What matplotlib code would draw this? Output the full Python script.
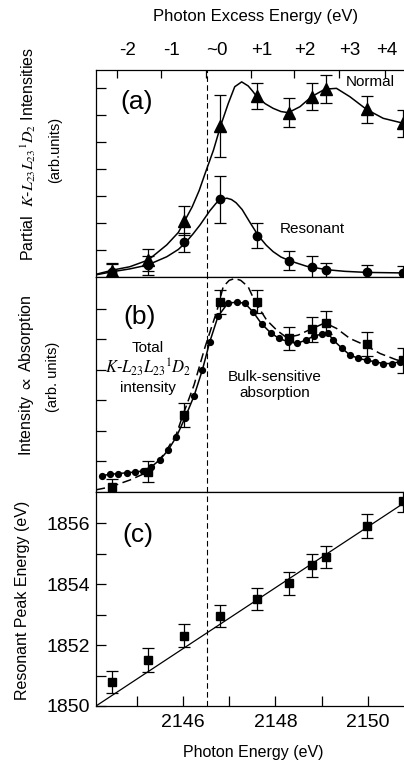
import matplotlib
matplotlib.use('Agg')
import matplotlib.pyplot as plt
import matplotlib.transforms as mtransforms

plt.rcParams['font.family'] = ['Liberation Sans', 'DejaVu Sans']
plt.rcParams['mathtext.fontset'] = 'stix'

# photon energies of the measured points (eV), shared by all panels
photon_e = [2144.47, 2145.25, 2146.03, 2146.80, 2147.60, 2148.30, 2148.80, 2149.10, 2149.98, 2150.76]
edge_e = 2146.52

# (a) partial K-LL 1D2 intensities
normal_y = [0.22, 0.63, 2.09, 5.59, 6.70, 6.09, 6.68, 6.96, 6.21, 5.69]
normal_err = [0.30, 0.39, 0.54, 1.15, 0.49, 0.54, 0.51, 0.51, 0.49, 0.50]
reson_y = [0.20, 0.44, 1.28, 2.88, 1.53, 0.60, 0.36, 0.26, 0.17, 0.16]
reson_err = [0.30, 0.35, 0.35, 0.88, 0.46, 0.35, 0.40, 0.27, 0.29, 0.25]

normal_fit_x = [2144.12, 2144.49, 2144.85, 2145.25, 2145.65, 2145.90, 2146.04, 2146.20, 2146.35,
                2146.48, 2146.66, 2146.82, 2146.98, 2147.12, 2147.27, 2147.41, 2147.50, 2147.59,
                2147.78, 2147.95, 2148.12, 2148.28, 2148.53, 2148.78, 2149.07, 2149.32, 2149.61,
                2149.97, 2150.33, 2150.78]
normal_fit_y = [0.10, 0.26, 0.38, 0.63, 1.19, 1.65, 2.09, 2.60, 3.20,
                3.84, 4.70, 5.63, 6.43, 7.05, 7.23, 7.08, 6.90, 6.70,
                6.42, 6.25, 6.13, 6.09, 6.31, 6.68, 6.96, 6.99, 6.68,
                6.21, 5.88, 5.69]

reson_fit_x = [2144.12, 2144.49, 2144.85, 2145.23, 2145.65, 2145.90, 2146.06, 2146.22, 2146.37,
               2146.58, 2146.72, 2146.84, 2146.95, 2147.05, 2147.15, 2147.28, 2147.45, 2147.63,
               2147.80, 2147.95, 2148.12, 2148.31, 2148.67, 2149.11, 2149.50, 2149.97, 2150.78]
reson_fit_y = [0.08, 0.20, 0.30, 0.44, 0.75, 1.02, 1.28, 1.60, 1.93,
               2.45, 2.74, 2.88, 2.92, 2.87, 2.75, 2.50, 2.02, 1.53,
               1.18, 0.94, 0.74, 0.60, 0.40, 0.27, 0.21, 0.17, 0.15]

# (b) total intensity (squares, dashed) and bulk-sensitive absorption (dots, solid)
total_y = [0.17, 0.66, 2.52, 6.22, 6.22, 5.02, 5.32, 5.53, 4.84, 4.30]
total_err = [0.27, 0.34, 0.39, 0.40, 0.38, 0.39, 0.40, 0.38, 0.38, 0.40]

total_fit_x = [2144.12, 2144.44, 2144.85, 2145.25, 2145.60, 2145.86, 2146.00, 2146.24, 2146.48,
               2146.74, 2146.87, 2147.00, 2147.12, 2147.25, 2147.41, 2147.56, 2147.81, 2148.03,
               2148.24, 2148.49, 2148.76, 2149.07, 2149.32, 2149.61, 2149.94, 2150.26, 2150.62,
               2150.78]
total_fit_y = [0.07, 0.17, 0.39, 0.66, 1.25, 1.90, 2.52, 3.50, 4.75,
               5.95, 6.71, 6.92, 6.98, 6.92, 6.71, 6.22, 5.62, 5.29,
               5.05, 5.13, 5.32, 5.53, 5.35, 5.02, 4.80, 4.53, 4.32,
               4.28]

abs_x = [2144.24, 2144.42, 2144.60, 2144.78, 2144.96, 2145.14, 2145.32, 2145.50, 2145.68,
         2145.86, 2146.04, 2146.24, 2146.42, 2146.58, 2146.76, 2146.97, 2147.16, 2147.34,
         2147.52, 2147.70, 2147.90, 2148.08, 2148.28, 2148.47, 2148.66, 2148.83, 2149.00,
         2149.13, 2149.25, 2149.43, 2149.61, 2149.79, 2149.97, 2150.15, 2150.33, 2150.51,
         2150.69]
abs_y = [0.53, 0.58, 0.60, 0.63, 0.65, 0.69, 0.83, 1.05, 1.37,
         1.81, 2.41, 3.14, 3.99, 4.91, 5.75, 6.17, 6.21, 6.17,
         5.88, 5.50, 5.20, 5.02, 4.91, 4.86, 4.97, 5.10, 5.16,
         5.20, 4.97, 4.71, 4.48, 4.37, 4.31, 4.26, 4.20, 4.20,
         4.26]

# (c) resonant peak energy
peak_y = [1850.79, 1851.51, 1852.30, 1852.95, 1853.51, 1854.03, 1854.62, 1854.89, 1855.90, 1856.72]
peak_err = [0.37, 0.38, 0.38, 0.37, 0.37, 0.38, 0.38, 0.37, 0.40, 0.35]
line_x = [2144.12, 2150.78]
line_y = [1850.0, 1856.66]

# top axis: photon excess energy
excess_ticks = [2144.57, 2145.52, 2146.50, 2147.47, 2148.40, 2149.37, 2150.36]
excess_labels = ['-2', '-1', '~0', '+1', '+2', '+3', '+4']

fig = plt.figure(figsize=(4.04, 7.64), dpi=100)
L, W = 96 / 404, 1.0 - 96 / 404
ax_a = fig.add_axes([L, 1 - 277 / 764, W, 207 / 764])
ax_b = fig.add_axes([L, 1 - 492 / 764, W, 215 / 764])
ax_c = fig.add_axes([L, 1 - 706 / 764, W, 214 / 764])

xlim = (2144.12, 2150.78)
dash = (0, (5, 3))
eb = dict(color='black', ecolor='black', elinewidth=0.9, capsize=4, capthick=0.9, linestyle='none')

for ax in (ax_a, ax_b, ax_c):
    ax.set_xlim(*xlim)
    ax.spines['right'].set_visible(False)
    for s in ax.spines.values():
        s.set_linewidth(0.9)
    ax.axvline(edge_e, color='black', lw=0.8, linestyle=dash)
    ax.tick_params(axis='y', which='both', direction='in', length=7, width=0.9,
                   right=False, labelleft=False)

# ---- (a)
ax_a.plot(normal_fit_x, normal_fit_y, color='black', lw=1.1)
ax_a.plot(reson_fit_x, reson_fit_y, color='black', lw=1.1)
ax_a.errorbar(photon_e, normal_y, yerr=normal_err, marker='^', ms=9, **eb)
ax_a.errorbar(photon_e, reson_y, yerr=reson_err, marker='o', ms=6, **eb)
ax_a.set_ylim(0, 7.67)
ax_a.set_yticks(range(1, 8))
ax_a.xaxis.tick_top()
ax_a.set_xticks(excess_ticks, excess_labels)
ax_a.tick_params(axis='x', direction='in', length=5.5, width=0.9, top=True, bottom=False,
                 labeltop=True, labelbottom=False, labelsize=13.5, pad=8)
# labels sit a little to the right of their ticks; the last one is kept inside the picture
tick_labels = ax_a.get_xticklabels()
for i, lab in enumerate(tick_labels):
    dx = 0.11 if i < len(tick_labels) - 1 else 0.02
    lab.set_transform(lab.get_transform() + mtransforms.ScaledTranslation(dx, 0, fig.dpi_scale_trans))
ax_a.text(2145.0, 6.48, '(a)', fontsize=19, ha='center', va='center')
ax_a.text(2150.04, 7.22, 'Normal', fontsize=11, ha='center', va='center')
ax_a.text(2148.79, 1.78, 'Resonant', fontsize=11, ha='center', va='center')

# ---- (b)
ax_b.plot(total_fit_x, total_fit_y, color='black', lw=1.1, linestyle=(0, (6, 3)))
ax_b.plot(abs_x, abs_y, color='black', lw=1.1, marker='o', ms=4.2)
ax_b.errorbar(photon_e, total_y, yerr=total_err, marker='s', ms=6, **eb)
ax_b.set_ylim(0, 7.03)
ax_b.set_yticks(range(1, 7))
ax_b.tick_params(axis='x', which='both', bottom=False, top=False, labelbottom=False)
ax_b.text(2145.07, 5.72, '(b)', fontsize=19, ha='center', va='center')
ax_b.text(2145.24, 4.71, 'Total', fontsize=11, ha='center', va='center')
ax_b.text(2145.24, 4.08, r'$K$-$L_{23}L_{23}{}^{1}D_{2}$', fontsize=12, ha='center', va='center')
ax_b.text(2145.24, 3.40, 'intensity', fontsize=11, ha='center', va='center')
ax_b.text(2147.99, 3.76, 'Bulk-sensitive', fontsize=11, ha='center', va='center')
ax_b.text(2147.99, 3.24, 'absorption', fontsize=11, ha='center', va='center')

# ---- (c)
ax_c.plot(line_x, line_y, color='black', lw=0.9)
ax_c.errorbar(photon_e, peak_y, yerr=peak_err, marker='s', ms=6, **eb)
ax_c.set_ylim(1850, 1857.02)
ax_c.set_yticks([1850, 1852, 1854, 1856])
ax_c.set_yticks([1851, 1853, 1855], minor=True)
ax_c.set_xticks([2146, 2148, 2150])
ax_c.set_xticks([2145, 2147, 2149], minor=True)
ax_c.tick_params(axis='y', which='both', labelleft=True, labelsize=14, pad=4)
ax_c.tick_params(axis='x', which='both', direction='in', length=7, width=0.9, top=False,
                 labelsize=14, pad=6)
ax_c.text(2145.03, 1855.6, '(c)', fontsize=19, ha='center', va='center')

# axis labels
fig.text(256 / 404, 1 - 17 / 764, 'Photon Excess Energy (eV)', fontsize=12, ha='center', va='center')
fig.text(253 / 404, 1 - 753 / 764, 'Photon Energy (eV)', fontsize=11.5, ha='center', va='center')
fig.text(28 / 404, 1 - 154 / 764, r'Partial  $K$-$L_{23}L_{23}{}^{1}D_{2}$ Intensities', fontsize=11.5,
         rotation=90, ha='center', va='center')
fig.text(55 / 404, 1 - 150 / 764, '(arb.units)', fontsize=10.5, rotation=90, ha='center', va='center')
fig.text(27 / 404, 1 - 375 / 764, r'Intensity $\propto$ Absorption', fontsize=11.5, rotation=90,
         ha='center', va='center')
fig.text(53 / 404, 1 - 377 / 764, '(arb. units)', fontsize=10.5, rotation=90, ha='center', va='center')
fig.text(23 / 404, 1 - 600 / 764, 'Resonant Peak Energy (eV)', fontsize=11.5, rotation=90,
         ha='center', va='center')

fig.savefig('out.png', dpi=100)
